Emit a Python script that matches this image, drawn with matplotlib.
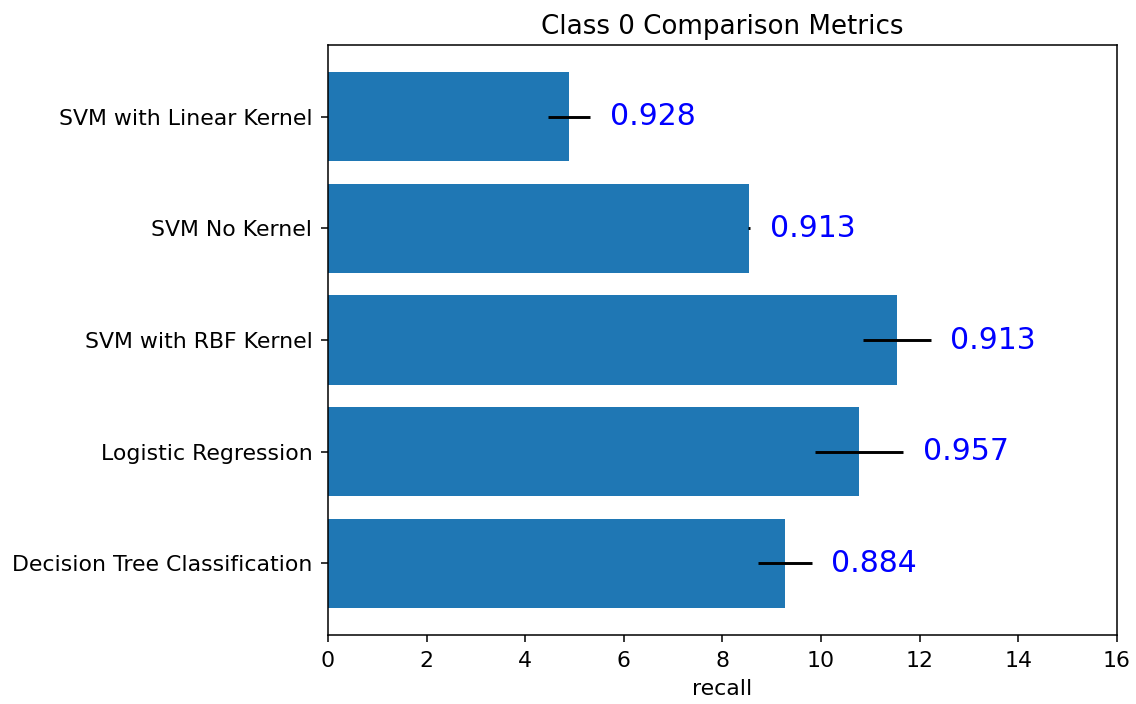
import matplotlib.pyplot as plt

models = ["Decision Tree Classification", "Logistic Regression",
          "SVM with RBF Kernel", "SVM No Kernel", "SVM with Linear Kernel"]
bar_values = [9.27, 10.77, 11.54, 8.54, 4.89]
bar_errors = [0.54, 0.89, 0.68, 0.02, 0.43]
recall_labels = ["0.884", "0.957", "0.913", "0.913", "0.928"]

plt.rcParams["font.size"] = 15.8
plt.rcParams["axes.linewidth"] = 1.1

fig = plt.figure(figsize=(11.36, 7.04), dpi=100)
ax = fig.add_axes([0.2887, 0.098, 0.6945, 0.838])

ax.barh(models, bar_values, xerr=bar_errors, color="#1f77b4",
        error_kw=dict(ecolor="black", elinewidth=2.1, capsize=0))

for i, (v, e, lab) in enumerate(zip(bar_values, bar_errors, recall_labels)):
    ax.text(v + e + 0.4, i, lab, color="blue", fontsize=21.5, va="center", ha="left")

ax.set_xlim(0, 16)
ax.set_xticks(range(0, 17, 2))
ax.tick_params(length=5.2, width=1.1, pad=6)
ax.set_xlabel("recall", labelpad=6)
ax.set_title("Class 0 Comparison Metrics", fontsize=18.8, pad=8)

fig.savefig("out.png", dpi=100)
